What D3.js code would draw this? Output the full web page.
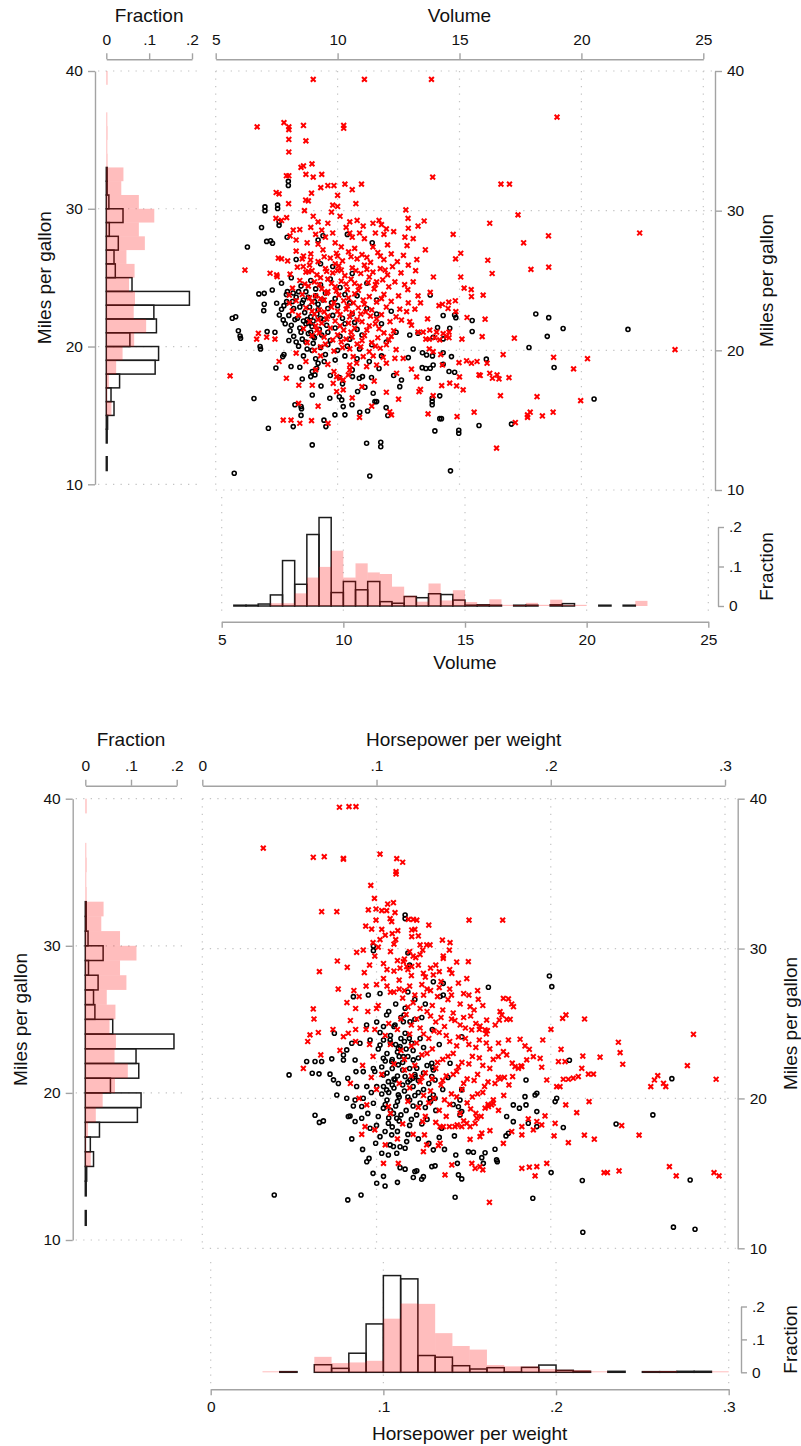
<!DOCTYPE html>
<html>
<head>
<meta charset="utf-8">
<script src="https://cdn.jsdelivr.net/npm/d3@7"></script>
<style>
  body { margin: 0; background: #fff; }
  svg { display: block; font-family: "Liberation Sans", Arial, sans-serif; }
  .axis path, .axis line { stroke: #a3a3a3; stroke-width: 1.4; }
  .axis text { fill: #111; font-size: 15.5px; }
  .grid line { stroke: #c4c4c4; stroke-width: 1.2; stroke-dasharray: 1.3 6.2; }
  .title { font-size: 19px; fill: #111; }
</style>
</head>
<body>
<svg id="chart" width="801" height="1446"></svg>
<script>
/*
 * Data
 * ========================================================================== */

// mpg histogram, bins of width 1 (shared by both panels)
const mpgBinStart = [11,12,13,14,15,16,17,18,19,20,21,22,23,24,25,26,27,28,29,30,31,32,33,34,35,36,37,38,39];
const mpgFracO = [.002,0,.002,.003,.018,.011,.031,.114,.122,.055,.117,.111,.194,.060,.021,.018,.028,.007,.039,.006,.002,.002,0,0,0,0,0,0,0];
const mpgFracX = [0,0,0,0,.012,.001,.006,.023,.038,.065,.093,.064,.067,.053,.066,.047,.090,.076,.112,.076,.035,.040,.003,.002,.003,.002,0,0,.003];

// volume histogram, bins of width .5
const volBinStart = [5.5,6,6.5,7,7.5,8,8.5,9,9.5,10,10.5,11,11.5,12,12.5,13,13.5,14,14.5,15,15.5,16,16.5,17,17.5,18,18.5,19,19.5,20,20.5,21,21.5,22];
const volFracO = [.002,.002,.005,.028,.115,.055,.181,.224,.034,.062,.041,.062,.011,.007,.024,.021,.031,.029,.015,.002,.003,.002,0,.002,.002,0,.003,.006,0,0,.002,0,.002,0];
const volFracX = [0,0,0,.007,.007,.032,.072,.099,.140,.072,.108,.085,.081,.049,.026,.011,.057,.014,.040,.010,.004,.017,.003,.001,.008,.003,.016,.003,.003,0,0,0,0,.013];

// horsepower per weight histogram, bins of width .01
const hpwBinStart = [.03,.04,.05,.06,.07,.08,.09,.10,.11,.12,.13,.14,.15,.16,.17,.18,.19,.20,.21,.22,.23,.24,.25,.26,.27,.28,.29];
const hpwFracO = [0,.002,0,.023,.012,.058,.147,.294,.284,.051,.046,.020,.010,.014,.001,.015,.022,.006,.003,0,.003,0,.002,.002,.003,.003,0];
const hpwFracX = [.002,.002,0,.047,.028,.030,.035,.163,.209,.208,.119,.080,.069,.022,.018,.018,.010,.008,.007,.002,0,0,.003,.004,0,0,.001];

// scatter: [volume, mpg]
const volumeX = [
  [9.0,39.4],[11.1,39.4],[13.85,39.4],[19.0,36.7],[6.7,36.0],[7.8,36.3],[8.0,36.0],[8.0,35.8],[8.6,36.1],[10.25,36.1],[10.25,35.9],[8.0,35.1],[8.7,35.0],[8.0,34.2],
  [8.6,33.2],[8.95,33.35],[8.5,33.1],[8.7,32.6],[9.0,32.4],[9.35,32.6],[7.9,32.5],[8.0,32.5],[13.9,32.4],[16.7,31.9],[17.05,31.9],
  [7.48,31.3],[7.6,31.2],[7.99,30.5],[7.91,29.5],[7.47,29.45],[7.7,29.3],[8.18,28.6],[8.45,28.65],[8.05,28.2],[8.64,30.0],[8.69,30.76],[8.8,30.7],[8.93,31.25],
  [9.31,31.65],[9.6,31.8],[9.85,31.8],[10.3,31.9],[10.6,31.5],[10.98,31.9],[10.75,30.5],[10.0,31.1],[9.8,30.4],[10.0,30.3],[9.75,29.9],[10.1,29.6],[10.5,29.2],
  [10.8,29.3],[11.05,28.9],[10.9,28.4],[11.45,29.1],[11.7,29.3],[11.8,29.0],[12.0,28.7],[11.9,28.3],[12.3,28.5],[11.55,28.4],[11.1,28.0],[10.5,28.4],[10.35,28.8],
  [10.6,28.1],[9.0,29.6],[9.2,29.2],[8.9,28.8],[9.1,28.3],[9.35,28.6],[9.5,28.1],[9.6,29.1],[9.8,28.4],[8.3,27.9],[8.75,27.7],[9.2,27.6],[9.9,27.7],[10.15,27.4],
  [10.7,27.3],[11.45,27.4],[12.05,27.55],
  [12.8,30.05],[17.4,29.7],[12.89,29.45],[13.55,29.26],[13.3,28.9],[16.24,29.1],[12.9,28.74],[22.39,28.4],[14.74,28.3],[18.65,28.2],[12.76,28.1],[13.1,28.0],
  [17.63,27.7],[12.85,27.5],[14.84,26.55],[15.05,26.95],[16.16,26.45],[16.34,25.5],[17.93,25.8],[18.66,25.95],[13.93,25.25],[15.05,25.25],[12.88,24.35],
  [13.3,23.9],[13.8,24.15],[15.19,24.45],[15.48,24.35],[15.49,23.85],[15.97,23.95],[13.4,23.4],[14.16,23.2],[14.3,23.3],[14.56,23.45],[14.83,23.55],[13.17,22.95],
  [12.83,22.77],[14.53,23.0],[14.85,22.77],[15.31,22.35],[16.05,22.23],[13.69,22.25],[12.62,22.17],[12.96,22.05],[13.03,21.8],[13.3,21.3],[13.51,21.3],[13.78,21.45],
  [14.06,21.3],[14.33,21.2],[14.47,21.0],[14.57,20.9],[14.57,21.3],[13.62,20.8],[13.76,20.8],[13.99,20.9],[14.19,20.75],[15.1,20.8],[15.93,20.98],[17.25,20.87],
  [13.76,20.1],[13.92,19.9],[12.69,19.43],[13.03,18.65],[13.24,18.1],[13.34,17.05],[13.4,17.2],[13.71,15.45],[13.92,16.75],[14.27,17.47],[14.6,17.65],[14.88,17.45],
  [15.15,17.17],[14.23,19.7],[14.3,18.95],[14.98,19.12],[15.0,18.1],[15.29,19.25],[15.49,19.08],[15.72,19.2],[15.8,18.24],[15.85,18.2],[16.13,19.08],[16.24,18.36],
  [16.35,18.0],[16.54,18.24],[16.62,17.95],[17.03,18.05],[16.79,19.7],[14.9,15.26],[15.6,15.57],[16.68,16.75],[17.29,14.83],[17.79,15.38],[17.79,15.2],[17.9,15.57],
  [18.4,15.3],[18.84,15.57],[18.18,16.68],[18.86,19.5],[19.68,18.67],[19.97,16.4],[20.25,19.4],[23.84,20.05],[16.52,13.0],
  [6.2,25.75],[5.59,18.17],[6.75,21.22],[6.68,20.8],[7.09,20.94],[7.43,20.8],[7.77,15.0],[8.09,15.0],[8.45,14.78],[8.93,14.97],[9.61,14.78],[8.41,17.5],[8.96,17.5],
  [8.14,22.82],[8.02,23.37],[7.5,25.4],[7.23,25.52],[7.52,25.28],[8.02,23.96],[7.7,26.55],[7.57,26.6],[8.89,26.47],[8.8,25.64],[8.59,26.0],[9.85,18.48],[9.96,18.12],
  [10.09,18.0],[10.23,17.88],[10.44,18.24],[10.5,18.6],[9.82,17.64],[10.23,17.17],[9.96,17.05],[12.14,15.6],[12.21,15.38],[12.42,18.36],[10.64,19.55],[11.05,19.55],
  [11.46,19.6],[11.87,19.5],[10.5,18.95],[10.78,19.08],[11.19,18.84],[11.6,18.95],[12.0,19.08],[12.35,19.43],
  [8.3,27.1],[8.9,26.9],[9.4,27.2],[9.95,26.95],[10.45,27.05],[11.0,26.85],[11.65,27.0],[12.2,26.9],
  [7.95,26.4],[8.55,26.55],[9.2,26.35],[9.7,26.6],[10.2,26.4],[10.8,26.55],[11.35,26.3],[11.9,26.5],[12.45,26.35],
  [8.35,25.95],[8.85,26.1],[9.5,25.85],[10.05,26.05],[10.6,25.9],[11.1,26.1],[11.75,25.85],[12.25,26.0],
  [8.05,25.45],[8.7,25.6],[9.15,25.4],[9.8,25.55],[10.3,25.35],[10.95,25.5],[11.45,25.6],[12.05,25.4],[12.6,25.55],
  [8.45,25.0],[9.05,24.9],[9.6,25.1],[10.15,24.95],[10.55,25.1],[11.25,24.85],[11.85,25.05],[12.35,24.9],
  [8.15,24.45],[8.8,24.6],[9.35,24.4],[9.9,24.55],[10.4,24.35],[10.9,24.6],[11.5,24.4],[12.1,24.55],
  [8.55,24.0],[9.1,23.9],[9.55,24.1],[10.05,23.95],[10.7,24.05],[11.3,23.85],[11.9,24.0],[12.5,23.9],
  [8.3,23.55],[8.95,23.45],[9.45,23.6],[9.85,23.4],[10.25,23.55],[10.65,23.4],[11.05,23.6],[11.6,23.45],[12.2,23.5],
  [8.7,23.05],[9.25,22.9],[9.75,23.1],[10.35,22.95],[10.85,23.05],[11.4,22.9],[12.0,23.1],[12.55,22.95],
  [8.4,22.5],[9.05,22.6],[9.6,22.45],[10.1,22.55],[10.5,22.4],[10.95,22.6],[11.35,22.45],[11.8,22.55],[12.4,22.4],
  [8.85,22.05],[9.35,21.95],[9.9,22.1],[10.45,21.95],[11.0,22.05],[11.55,21.9],[12.15,22.05],
  [8.6,21.55],[9.15,21.45],[9.7,21.6],[10.25,21.45],[10.7,21.6],[11.2,21.45],[11.7,21.55],[12.3,21.4],
  [8.95,21.05],[9.45,20.95],[10.0,21.1],[10.6,20.95],[11.1,21.05],[11.65,20.9],[12.2,21.0],
  [8.75,20.55],[9.5,20.45],[10.15,20.6],[10.8,20.45],[11.4,20.55],[12.0,20.4],
  [9.05,20.0],[9.85,19.95],[10.5,20.1],[11.3,19.9],[12.4,20.05],
  [9.3,25.2],[10.0,25.7],[10.7,24.8],[9.6,24.2],[10.4,23.2],[9.2,22.2],[10.8,22.2],[11.6,24.9],[9.9,26.2],[11.2,25.8],
  [8.6,26.75],[9.45,26.7],[10.0,26.75],[10.55,26.7],[11.2,26.65],[11.75,26.75],
  [8.95,25.7],[9.55,25.65],[10.15,25.75],[10.75,25.7],[11.3,25.25],[11.95,25.75],
  [8.65,24.75],[9.25,24.7],[9.75,24.8],[10.35,24.75],[10.85,24.3],[11.55,24.7],
  [8.85,23.75],[9.3,23.7],[9.95,24.25],[10.45,23.75],[11.1,23.3],[11.8,23.7],
  [8.95,22.8],[9.45,22.75],[10.0,22.8],[10.6,22.7],[11.15,22.75],[11.6,22.25],
  [9.1,21.75],[9.55,22.25],[10.1,21.75],[10.55,21.3],[11.3,21.75],[11.9,21.25],
  [9.25,21.25],[9.8,20.75],[10.35,20.8],[11.0,20.7],[11.55,20.3],[12.1,20.75],
  [9.3,20.25],[10.2,20.2],[10.95,20.25],[11.75,20.15],
  [12.7,26.8],[12.9,26.1],[13.2,25.7],[12.75,24.7],[13.1,24.9],[12.9,23.4],[13.25,26.5],[13.6,27.2],
  [8.7,19.2],[9.3,19.6],[9.1,18.6],[9.6,19.0],[8.4,16.2],[9.2,16.0],[10.6,16.6],[11.0,17.4],[11.5,17.8],[10.9,15.2],[11.4,16.0],[12.0,17.0],[12.5,16.5],
  [7.6,19.2],[7.9,18.0],[8.3,19.8]
];

const volumeO = [
  [7.02,30.27],[7.02,30.0],[7.54,30.4],[7.54,30.15],[7.98,32.1],[7.98,31.8],[6.88,28.8],[7.6,29.2],[7.6,28.95],[7.93,28.1],[6.3,27.4],[7.09,27.8],[7.25,27.85],
  [7.33,27.67],[10.4,28.3],[11.42,27.7],[9.4,28.2],[9.2,27.9],
  [5.76,11.2],[5.68,22.3],[5.82,22.4],[5.93,21.4],[6.0,21.03],[6.02,20.87],[6.82,20.27],[6.84,20.1],[6.57,16.55],[7.16,14.42],[6.77,24.04],[6.99,24.08],[6.99,23.3],
  [6.97,22.84],[7.32,24.32],[7.11,21.34],[7.43,21.3],[7.77,22.18],[7.47,18.74],[7.5,23.37],[7.61,22.53],[7.7,22.94],[8.09,18.84],[8.45,18.79],[7.91,23.49],[7.94,24.2],
  [8.18,24.1],[7.75,19.55],[7.8,19.7],[8.0,20.7],[8.25,16.1],[8.5,15.98],[8.52,15.82],[8.5,15.34],[8.18,14.54],[8.96,13.23],[8.96,16.8],[8.55,17.95],[8.9,18.12],
  [8.96,18.48],[9.07,18.24],[9.14,18.72],[9.2,19.08],[9.32,17.45],[9.68,16.57],[10.07,16.68],[10.17,16.45],[9.44,15.0],[9.52,14.54],[9.89,15.38],[10.3,15.38],
  [10.23,15.97],[10.59,16.1],[10.07,18.05],[10.91,15.57],[11.23,15.66],[11.19,13.35],[11.77,13.42],[11.77,13.1],[11.32,11.0],[11.99,15.9],[12.06,15.33],[11.53,16.33],
  [11.6,16.33],[11.46,16.93],[11.12,17.36],[10.82,17.05],[10.89,18.0],[10.61,18.12],[11.02,18.12],[11.39,18.05],
  [13.8,23.96],[14.33,22.49],[14.8,22.53],[14.85,22.34],[15.52,22.14],[15.52,21.35],[14.6,21.58],[14.1,21.63],[14.33,20.82],[13.92,20.94],[12.96,21.1],[13.3,21.22],
  [18.13,22.6],[18.66,22.34],[19.25,21.56],[18.6,21.0],[21.91,21.5],[17.85,20.2],[13.1,20.1],[13.48,19.83],[13.65,19.67],[13.89,19.6],[14.33,19.83],[14.67,19.55],
  [12.9,19.48],[13.47,18.76],[13.62,18.7],[13.8,18.72],[14.33,19.0],[13.92,18.95],[14.57,18.48],[14.8,18.43],[13.71,18.0],[16.1,19.37],[18.88,18.77],[20.52,16.52],
  [14.19,16.74],[13.88,16.57],[13.88,16.33],[13.88,16.1],[14.19,15.11],[14.26,15.11],[13.99,14.23],[14.97,14.28],[14.97,14.06],[15.8,14.62],[17.13,14.72],[14.63,11.37],
  [12.55,17.4],[12.62,17.88],
  [7.7,24.8],[8.1,25.2],[8.5,24.6],[8.9,25.0],[9.3,24.7],[9.7,25.1],[10.1,24.5],
  [7.9,24.0],[8.3,23.8],[8.7,24.2],[9.1,23.9],[9.5,24.1],[9.9,23.7],[10.3,24.0],
  [7.8,23.2],[8.2,23.0],[8.55,23.4],[8.85,23.1],[9.2,23.3],[9.6,23.0],[10.0,23.2],[10.5,23.4],
  [8.0,22.5],[8.35,22.3],[8.65,22.7],[8.9,22.4],[9.15,22.6],[9.45,22.2],[9.8,22.5],[10.2,22.3],[10.6,22.6],
  [8.1,21.8],[8.45,21.6],[8.7,21.9],[8.95,21.7],[9.25,21.5],[9.55,21.8],[9.9,21.6],[10.3,21.9],[10.8,21.5],
  [8.2,21.0],[8.55,20.8],[8.8,21.2],[9.05,20.9],[9.35,21.1],[9.7,20.7],[10.1,21.0],[10.5,20.8],[11.0,21.1],
  [8.4,20.3],[8.75,20.1],[9.0,20.5],[9.3,20.2],[9.6,20.4],[10.0,20.0],[10.4,20.3],[10.9,20.1],[11.4,20.4],
  [8.6,19.6],[9.1,19.4],[9.5,19.7],[9.9,19.3],[10.3,19.6],[10.8,19.4],[11.3,19.2],[11.8,19.6],
  [8.8,22.0],[8.85,21.95],[9.0,22.1],[8.75,22.2],[8.9,21.3],[9.05,23.5],[8.6,23.6],
  [8.25,22.2],[8.5,21.3],[8.7,20.6],[8.95,20.0],[9.2,22.9],[9.4,23.6],[8.4,24.2],[8.15,23.5],[9.6,21.3],[9.3,22.3],
  [8.6,22.1],[8.45,23.1],[9.75,23.4],[9.1,24.4],[8.05,21.4],[7.85,21.9],[8.3,20.6],[9.45,19.2],[9.0,21.0],[8.8,23.8],
  [9.3,26.2],[8.3,26.5],[9.8,26.0],[10.6,25.5],[11.2,24.8],[11.6,23.6],[12.2,22.8],[11.8,21.9],[12.4,21.3],[11.6,22.6],
  [10.6,18.6],[10.2,17.6],[9.7,18.2],[11.7,18.7],[12.3,18.2],[12.0,20.6],[10.7,22.0],[11.2,23.0],[10.8,23.9]
];

// scatter: [horsepower per weight, mpg]
const hpwX = [
  [.0787,39.43],[.0842,39.47],[.0882,39.47],[.035,36.7],[.0637,36.09],[.070,36.13],[.081,36.02],[.081,35.96],[.102,36.3],[.1116,36.0],[.1112,35.13],[.1112,34.98],
  [.115,35.76],[.0967,34.22],[.0988,33.35],[.0953,32.58],[.0997,32.64],[.103,32.53],[.1058,32.53],[.0685,32.46],[.0772,32.46],[.1064,32.97],[.1097,33.06],[.0997,31.9],
  [.1078,32.0],[.1087,31.8],[.1106,32.4],[.0938,31.5],[.0972,31.3],[.103,31.28],[.1122,31.2],[.0924,29.9],[.0886,29.75],[.0775,29.17],[.0672,28.46],[.0832,28.75],
  [.1183,31.95],[.1211,31.95],[.1231,31.9],[.130,31.57],[.1531,31.9],[.1724,31.9],[.1202,31.24],[.122,31.28],[.1202,30.8],[.124,30.84],[.1378,30.57],[.1422,30.4],
  [.1418,29.9],[.125,30.24],[.1288,30.24],[.1307,30.24],[.119,29.8],[.121,29.5],[.1225,29.4],[.125,29.6],[.1265,29.9],[.1383,29.5],[.1383,29.35],[.1527,29.13],
  [.1154,29.13],[.1173,28.8],[.1202,28.8],[.1269,28.35],[.1326,28.24],[.136,28.46],[.1432,28.35],[.1518,28.0],
  [.093,28.4],[.096,28.9],[.099,29.5],[.101,30.1],[.104,29.0],[.106,28.6],[.108,29.8],[.110,30.3],[.112,29.2],[.1135,28.7],[.102,30.6],[.098,30.4],[.105,30.9],
  [.109,31.0],[.111,30.6],
  [.0637,25.97],[.0641,25.3],[.0618,24.24],[.0666,24.4],[.081,24.12],[.0838,24.35],[.078,27.3],[.083,26.4],[.088,24.6],[.088,26.0],[.094,24.6],[.100,26.0],
  [.099,24.6],[.106,27.5],[.108,27.1],[.110,27.1],[.113,27.3],[.100,27.6],[.094,27.5],[.087,27.2],
  [.0944,19.57],[.0934,18.12],[.1068,19.45],[.104,15.67],[.1125,15.67],
  [.2819,24.28],[.2784,22.19],[.2949,21.28],[.2388,23.75],[.2398,23.06],[.2413,22.28],[.2574,20.79],[.2595,21.23],[.2614,21.52],[.2647,21.01],[.266,20.79],
  [.2507,17.55],[.2407,18.19],[.225,17.28],[.2193,17.55],[.2101,17.05],[.2019,17.5],[.2681,15.45],[.272,14.83],[.2937,15.05],[.2966,14.83],[.2306,15.05],
  [.2325,15.05],[.2392,15.16],[.1977,15.67],[.192,15.45],[.191,14.83],[.1877,15.41],[.1834,15.34],[.1648,13.07],[.1393,14.9],[.1432,15.56],[.1547,15.67],
  [.1566,15.34],[.1594,15.45],[.161,15.23],[.1269,16.45],[.1288,16.9],[.1355,16.85],[.1365,17.01],[.1275,17.57],[.1265,18.45],
  [.1365,18.12],[.1383,18.12],[.1418,18.12],[.145,18.12],[.1463,18.23],[.1489,18.12],[.1518,18.34],[.1537,18.12],[.1566,18.34],[.1575,18.68],[.1604,17.68],
  [.1623,19.35],[.1642,19.46],[.166,19.57],[.167,19.68],[.1651,17.85],[.1537,17.27],[.1594,17.45],[.1728,17.0],[.1776,17.79],[.1834,17.57],[.1834,18.12],
  [.1871,18.63],[.19,17.9],[.192,18.46],[.1948,18.23],[.1967,18.83],[.2025,18.34],[.2149,19.05],[.222,19.79],[.2086,19.57],
  [.1699,22.79],[.1728,23.12],[.1747,22.9],[.1779,22.35],[.1795,22.12],[.1814,22.01],[.1834,22.12],[.1862,22.57],[.19,22.79],[.1939,22.68],[.1948,22.08],
  [.1977,21.23],[.2034,20.79],[.2053,20.79],[.2072,21.28],[.2101,21.28],[.2129,21.35],[.2158,21.46],[.2178,22.01],[.2184,22.83],[.2216,21.62],[.2245,21.62],
  [.2283,22.75],[.2044,22.46],[.2082,22.46],[.2059,23.28],[.1954,23.9],[.1877,23.28],[.1852,23.5],[.1824,23.95],[.1757,23.9],[.1829,22.17],[.1709,21.3],
  [.1734,21.4],[.1781,21.46],
  [.1728,26.68],[.1757,26.64],[.1776,26.3],[.1786,26.12],[.1709,25.79],[.1719,25.57],[.1747,25.28],[.1767,25.28],[.1705,25.23],[.1632,25.23],[.1584,26.61],
  [.1537,26.12],[.1546,24.57],[.1594,24.83],[.1623,24.57],[.1636,24.52],[.1681,24.9],[.2001,24.61],[.2068,25.34],[.2087,25.57],[.2194,25.3],
  [.118,28.6],[.124,28.9],[.131,28.7],[.137,27.8],[.142,27.3],[.147,27.7],[.113,27.9],[.119,27.5],[.126,27.6],[.131,27.2],[.135,26.8],[.141,26.6],[.148,26.3],
  [.153,26.9],[.158,27.2],[.115,26.7],[.121,26.4],[.127,26.9],[.132,26.2],[.138,25.9],[.144,25.7],[.150,25.4],[.156,25.9],[.161,26.2],[.117,25.6],[.123,25.3],
  [.129,25.8],[.134,25.1],[.139,24.8],[.145,25.2],[.151,24.7],[.157,25.0],[.163,24.3],[.107,25.0],[.112,24.6],[.119,24.3],[.125,24.7],[.130,24.0],[.136,24.4],
  [.142,23.8],[.147,24.1],[.153,23.6],[.159,23.9],[.165,23.3],[.170,23.7],[.108,23.6],[.114,23.2],[.120,23.5],[.126,22.9],[.132,23.3],[.138,22.6],[.144,23.0],
  [.149,22.4],[.155,22.8],[.161,22.2],[.167,22.6],[.110,22.3],[.116,21.9],[.122,22.2],[.128,21.7],[.134,22.0],[.140,21.5],[.146,21.8],[.152,21.3],[.158,21.6],
  [.164,21.1],[.170,21.4],[.176,20.9],[.113,21.0],[.119,20.7],[.125,21.1],[.131,20.5],[.137,20.9],[.143,20.3],[.149,20.6],[.155,20.1],[.161,20.4],[.167,19.9],
  [.173,20.2],[.118,19.8],[.124,19.4],[.130,19.7],[.136,19.2],[.142,19.6],[.148,19.0],[.154,19.3],[.160,18.8],[.108,19.0],[.100,20.6],[.103,21.6],[.098,22.8],
  [.096,23.6],[.092,22.2],[.101,26.2],[.095,25.8],[.090,26.8],[.085,25.2],[.104,28.0],[.110,28.5],[.116,29.3],[.142,28.6],[.146,29.1],[.105,24.2],[.097,21.4],
  [.115,18.3],[.121,17.6],[.105,16.9],[.112,17.3],[.099,17.9],
  [.120,28.2],[.128,28.1],[.134,28.9],[.116,27.2],[.122,26.9],[.129,27.3],[.136,27.4],[.143,26.9],[.150,27.0],
  [.118,26.1],[.125,26.0],[.131,25.5],[.137,25.4],[.143,25.3],[.148,24.9],[.154,25.5],[.159,24.6],
  [.114,25.3],[.120,24.9],[.127,24.3],[.133,24.5],[.140,24.2],[.146,23.5],[.151,24.0],[.157,23.4],[.163,23.7],
  [.116,22.6],[.123,23.7],[.129,23.0],[.135,22.4],[.141,22.8],[.147,22.1],[.153,22.3],[.159,22.7],[.165,22.0],
  [.120,21.5],[.126,21.4],[.132,21.3],[.138,21.2],[.144,21.6],[.150,21.0],[.156,21.2],[.162,20.8],[.168,21.0],
  [.127,20.2],[.133,20.0],[.139,19.9],[.146,20.1],[.152,19.7],[.158,20.3],[.164,19.6],[.170,19.2],
  [.128,18.8],[.134,18.4],[.140,18.8],[.150,18.5],[.157,19.0],
  [.058,22.0],[.0605,23.8],[.068,22.9],[.075,24.6],[.079,23.2],[.085,21.0],[.088,23.8],[.090,20.0],[.0915,17.6]
];

const hpwO = [
  [.1164,32.24],[.1164,32.0],[.1992,28.17],[.0982,30.17],[.0982,29.86],[.118,29.7],[.119,28.9],
  [.0498,21.57],[.0599,22.46],[.0647,22.46],[.0685,22.46],[.0743,22.64],[.0631,21.68],[.067,21.64],[.0733,21.62],[.0758,24.35],[.0781,21.0],[.0772,20.23],
  [.0647,18.88],[.0672,18.4],[.0695,18.5],[.0413,13.56],[.0835,13.23],[.0911,13.56],[.1001,14.34],[.1049,14.16],[.0858,17.3],[.0838,18.79],[.0848,18.83],
  [.0915,18.68],[.0944,15.78],[.0957,16.0],
  [.2006,27.46],[.1642,27.42],[.1164,26.02],[.1158,25.57],[.1154,25.12],[.1192,25.12],[.122,25.28],[.1365,26.8],[.1383,26.9],[.1326,27.79],[.1383,27.68],
  [.1489,24.12],[.1164,24.35],[.1188,24.01],[.1202,23.68],[.1135,23.46],[.1154,22.79],[.1211,22.57],[.1231,22.01],[.1221,21.46],[.1208,21.35],[.1192,21.23],
  [.1164,21.46],[.1317,22.35],[.1323,22.08],[.1326,21.9],[.1317,21.46],[.1336,21.23],[.1326,20.23],[.1307,20.01],[.1336,20.01],[.1422,22.35],[.1489,20.57],
  [.1479,19.9],[.147,19.45],[.1479,18.9],[.1489,19.12],[.1374,18.01],[.1447,17.5],[.1135,16.78],[.1164,16.68],[.1173,17.12],[.1326,16.57],[.1317,15.45],
  [.1336,15.5],[.1231,15.17],[.122,15.12],[.1211,14.72],[.1259,14.61],[.1269,14.78],[.1135,15.38],[.1164,15.28],[.1455,16.23],[.1464,15.67],[.147,14.9],
  [.1489,14.63],[.1451,13.41],[.1527,16.45],[.1556,16.41],[.1604,16.05],[.1613,15.67],[.1623,16.38],[.168,16.61],[.1689,15.9],[.1693,15.78],[.1743,17.5],
  [.1757,17.68],[.1785,18.45],[.1747,18.79],[.1785,19.57],[.182,19.35],[.1858,19.57],[.1852,20.12],[.1858,21.23],[.1871,18.34],[.192,18.12],[.192,19.12],
  [.192,20.35],[.191,20.23],[.2034,20.01],[.2025,19.79],[.2072,18.06],[.2107,22.55],[.2002,15.05],[.2181,14.52],[.1897,13.34],[.2184,11.07],[.2375,18.29],
  [.2586,18.9],[.2695,21.32],[.28,14.56],[.2704,11.41],[.2828,11.27],
  [.081,22.9],[.081,22.56],[.0829,23.24],[.0858,23.68],[.0877,22.56],[.0905,23.68],[.0829,20.01],[.0877,19.9],[.0924,20.01],[.0867,19.5],[.0915,19.46],
  [.0835,21.35],[.0882,21.79],[.0924,21.79],[.0944,20.79],[.0995,17.01],[.102,17.45],[.1049,17.79],[.1087,17.57],[.1078,16.9],[.1097,16.79],[.103,16.34],
  [.1068,16.23],[.1116,16.34],[.0953,26.9],[.0867,26.79],[.102,27.0],[.0943,24.9],[.1001,25.1],[.1058,25.57],[.1106,24.9],[.0963,23.9],[.102,23.57],
  [.1078,23.9],[.1125,23.35],[.1039,22.68],[.1087,22.46],[.1125,22.24],[.0982,22.0],[.1039,21.57],[.1068,21.12],[.1106,21.24],[.1001,20.79],[.1058,20.57],
  [.1125,20.24],[.0982,19.68],[.1039,19.35],[.1097,19.0],[.101,18.79],[.1068,18.34],[.1116,18.68],[.0877,18.46],[.0963,18.01],[.0886,20.8],[.0753,21.24],
  [.104,23.9],[.108,24.2],[.111,23.6],[.114,24.0],[.117,23.3],[.106,23.0],[.109,22.6],[.112,23.1],[.115,22.4],[.118,22.8],[.121,23.2],[.124,22.7],[.127,23.4],
  [.103,22.1],[.106,21.7],[.109,22.0],[.112,21.5],[.115,21.9],[.118,21.1],[.121,20.8],[.124,21.2],[.127,20.6],[.130,21.0],[.104,20.8],[.107,20.4],[.110,20.7],
  [.113,20.1],[.116,20.5],[.119,19.9],[.122,20.2],[.125,19.7],[.128,19.4],[.131,19.8],[.105,19.6],[.108,19.2],[.111,19.5],[.114,18.9],[.117,19.2],[.120,18.6],
  [.123,18.9],[.126,18.3],[.129,18.6],[.109,18.1],[.112,17.8],[.118,17.6],[.124,17.3],[.130,17.0],[.136,17.4],[.139,16.6],[.134,19.2],[.138,20.6],[.141,21.4],
  [.144,19.6],[.136,23.6],[.132,24.6],[.126,25.4],[.128,26.3],[.122,26.6],[.118,27.1],[.111,26.3],[.107,25.8],[.104,24.8],[.099,21.8],[.097,20.4],[.095,19.0],
  [.1,18.2],[.092,16.6],[.098,15.0],[.104,14.8],[.112,14.4],
  [.101,23.3],[.105,22.5],[.108,23.7],[.110,21.3],[.113,22.8],[.116,23.8],[.119,22.0],[.122,21.6],[.103,20.3],[.106,19.9],[.109,20.9],[.112,19.8],
  [.115,20.9],[.118,20.1],[.121,19.5],[.124,20.4],[.127,21.7],[.107,18.7],[.113,18.5],[.119,18.2],[.102,24.4],[.110,24.8],[.114,25.4],[.125,24.0],[.129,22.2]
];

const mpgTicks = [10, 20, 30, 40];
const fracTicks = [0, .1, .2];

/*
 * Layout of the two panels (pixels)
 * ========================================================================== */

const panels = [
  {
    xLabel: 'Volume', xDomain: [5, 25], xTicks: [5, 10, 15, 20, 25],
    crosses: volumeX, circles: volumeO,
    binStart: volBinStart, binWidth: .5, fracO: volFracO, fracX: volFracX,
    sx: [215.7, 703.3], sy: [490, 71], hy: [484.3, 71], hx: [106.3, 192],
    topAxisY: 59.3, leftAxisX: 95, rightAxisX: 715, topPad: 8,
    bx: [221.7, 708.3], by: [606, 527], bAxisY: 621.7, fracAxisX: 718, bGridTop: 497,
    titleTopY: 21.5, leftTitleX: 44, rightTitleX: 766, fracTitleX: 766, bottomTitleY: 669
  },
  {
    xLabel: 'Horsepower per weight', xDomain: [0, .3], xTicks: [0, .1, .2, .3],
    crosses: hpwX, circles: hpwO,
    binStart: hpwBinStart, binWidth: .01, fracO: hpwFracO, fracX: hpwFracX,
    sx: [202.3, 725], sy: [1248.3, 798.7], hy: [1240, 798.7], hx: [85.3, 176.7],
    topAxisY: 785.7, leftAxisX: 72.7, rightAxisX: 737.7, topPad: 9,
    bx: [210.7, 728.7], by: [1372.3, 1306.5], bAxisY: 1389.3, fracAxisX: 741, bGridTop: 1262,
    titleTopY: 745.7, leftTitleX: 20, rightTitleX: 790, fracTitleX: 790, bottomTitleY: 1440
  }
];

const fmt = d => d === 0 ? '0' : String(d).replace(/^0\./, '.');

const svg = d3.select('#chart');

panels.forEach(P => drawPanel(P));

function drawPanel(P) {

  const g = svg.append('g');

  // scales
  const x = d3.scaleLinear().domain(P.xDomain).range(P.sx),
        y = d3.scaleLinear().domain([10, 40]).range(P.sy),
        hy = d3.scaleLinear().domain([10, 40]).range(P.hy),
        hx = d3.scaleLinear().domain([0, .2]).range(P.hx),
        bx = d3.scaleLinear().domain(P.xDomain).range(P.bx),
        by = d3.scaleLinear().domain([0, .2]).range(P.by);

  /*
   * Gridlines
   */
  const grid = g.append('g').attr('class', 'grid');

  grid.selectAll('.gl').data(mpgTicks).enter().append('line')
      .attr('x1', P.leftAxisX + 3).attr('x2', P.hx[1] + 8)
      .attr('y1', d => hy(d)).attr('y2', d => hy(d));

  grid.selectAll('.gs').data(mpgTicks).enter().append('line')
      .attr('x1', P.sx[0]).attr('x2', P.rightAxisX - 2)
      .attr('y1', d => y(d)).attr('y2', d => y(d));

  grid.selectAll('.gv').data(P.xTicks).enter().append('line')
      .attr('x1', d => x(d)).attr('x2', d => x(d))
      .attr('y1', y(40)).attr('y2', y(10));

  grid.selectAll('.gb').data(P.xTicks).enter().append('line')
      .attr('x1', d => bx(d)).attr('x2', d => bx(d))
      .attr('y1', P.bGridTop).attr('y2', P.bAxisY - 5);

  /*
   * Left histogram (mpg, horizontal bars)
   */
  const leftO = mpgBinStart.map((s, i) => ({ s, f: mpgFracO[i] })).filter(d => d.f > 0),
        leftX = mpgBinStart.map((s, i) => ({ s, f: mpgFracX[i] })).filter(d => d.f > 0);

  g.append('g').selectAll('rect').data(leftO).enter().append('rect')
      .attr('x', hx(0)).attr('y', d => hy(d.s + 1))
      .attr('width', d => hx(d.f) - hx(0)).attr('height', d => hy(d.s) - hy(d.s + 1))
      .attr('fill', 'none').attr('stroke', '#1c1c1c').attr('stroke-width', 1.5);

  g.append('g').selectAll('rect').data(leftX).enter().append('rect')
      .attr('x', hx(0)).attr('y', d => hy(d.s + 1))
      .attr('width', d => Math.max(1, hx(d.f) - hx(0))).attr('height', d => hy(d.s) - hy(d.s + 1))
      .attr('fill', 'rgba(255,0,0,0.26)');

  /*
   * Bottom histogram
   */
  const w = P.binWidth;
  const botO = P.binStart.map((s, i) => ({ s, f: P.fracO[i] })).filter(d => d.f > 0),
        botX = P.binStart.map((s, i) => ({ s, f: P.fracX[i] })).filter(d => d.f > 0);

  g.append('g').selectAll('rect').data(botO).enter().append('rect')
      .attr('x', d => bx(d.s)).attr('y', d => by(d.f))
      .attr('width', d => bx(d.s + w) - bx(d.s)).attr('height', d => by(0) - by(d.f))
      .attr('fill', 'none').attr('stroke', '#1c1c1c').attr('stroke-width', 1.5);

  g.append('g').selectAll('rect').data(botX).enter().append('rect')
      .attr('x', d => bx(d.s)).attr('y', d => Math.min(by(d.f), by(0) - 1))
      .attr('width', d => bx(d.s + w) - bx(d.s)).attr('height', d => Math.max(1, by(0) - by(d.f)))
      .attr('fill', 'rgba(255,0,0,0.26)');

  /*
   * Scatter
   */
  g.append('g').selectAll('circle').data(P.circles).enter().append('circle')
      .attr('cx', d => x(d[0])).attr('cy', d => y(d[1])).attr('r', 2.0)
      .attr('fill', 'none').attr('stroke', '#000').attr('stroke-width', 1.6);

  g.append('g').selectAll('path').data(P.crosses).enter().append('path')
      .attr('transform', d => 'translate(' + x(d[0]) + ',' + y(d[1]) + ')')
      .attr('d', 'M-2.4,-2.4L2.4,2.4M-2.4,2.4L2.4,-2.4')
      .attr('stroke', '#ff0000').attr('stroke-width', 2).attr('fill', 'none');

  /*
   * Axes
   */
  g.append('g').attr('class', 'axis')
      .attr('transform', 'translate(0,' + P.topAxisY + ')')
      .call(d3.axisTop(x).tickValues(P.xTicks).tickFormat(fmt).tickSize(6).tickSizeOuter(0).tickPadding(P.topPad));

  g.append('g').attr('class', 'axis')
      .attr('transform', 'translate(0,' + P.topAxisY + ')')
      .call(d3.axisTop(hx).tickValues(fracTicks).tickFormat(fmt).tickSize(6).tickSizeOuter(0).tickPadding(P.topPad));

  g.append('g').attr('class', 'axis')
      .attr('transform', 'translate(' + P.leftAxisX + ',0)')
      .call(d3.axisLeft(hy).tickValues(mpgTicks).tickSize(7).tickSizeOuter(0).tickPadding(5));

  g.append('g').attr('class', 'axis')
      .attr('transform', 'translate(' + P.rightAxisX + ',0)')
      .call(d3.axisRight(y).tickValues(mpgTicks).tickSize(7).tickSizeOuter(0).tickPadding(5));

  g.append('g').attr('class', 'axis')
      .attr('transform', 'translate(0,' + P.bAxisY + ')')
      .call(d3.axisBottom(bx).tickValues(P.xTicks).tickFormat(fmt).tickSize(6).tickSizeOuter(0).tickPadding(6));

  g.append('g').attr('class', 'axis')
      .attr('transform', 'translate(' + P.fracAxisX + ',0)')
      .call(d3.axisRight(by).tickValues(fracTicks).tickFormat(fmt).tickSize(6).tickSizeOuter(0).tickPadding(5));

  /*
   * Titles
   */
  g.append('text').attr('class', 'title').attr('text-anchor', 'middle')
      .attr('x', (P.hx[0] + P.hx[1]) / 2).attr('y', P.titleTopY).text('Fraction');

  g.append('text').attr('class', 'title').attr('text-anchor', 'middle')
      .attr('x', (P.sx[0] + P.sx[1]) / 2).attr('y', P.titleTopY).text(P.xLabel);

  g.append('text').attr('class', 'title').attr('text-anchor', 'middle')
      .attr('x', (P.bx[0] + P.bx[1]) / 2).attr('y', P.bottomTitleY).text(P.xLabel);

  const vTitle = (cx, cy, label) => g.append('text').attr('class', 'title')
      .attr('text-anchor', 'middle').attr('dy', '0.35em')
      .attr('transform', 'translate(' + cx + ',' + cy + ') rotate(-90)')
      .text(label);

  vTitle(P.leftTitleX, (P.hy[0] + P.hy[1]) / 2, 'Miles per gallon');
  vTitle(P.rightTitleX, (P.sy[0] + P.sy[1]) / 2, 'Miles per gallon');
  vTitle(P.fracTitleX, (P.by[0] + P.by[1]) / 2, 'Fraction');
}
</script>
</body>
</html>
